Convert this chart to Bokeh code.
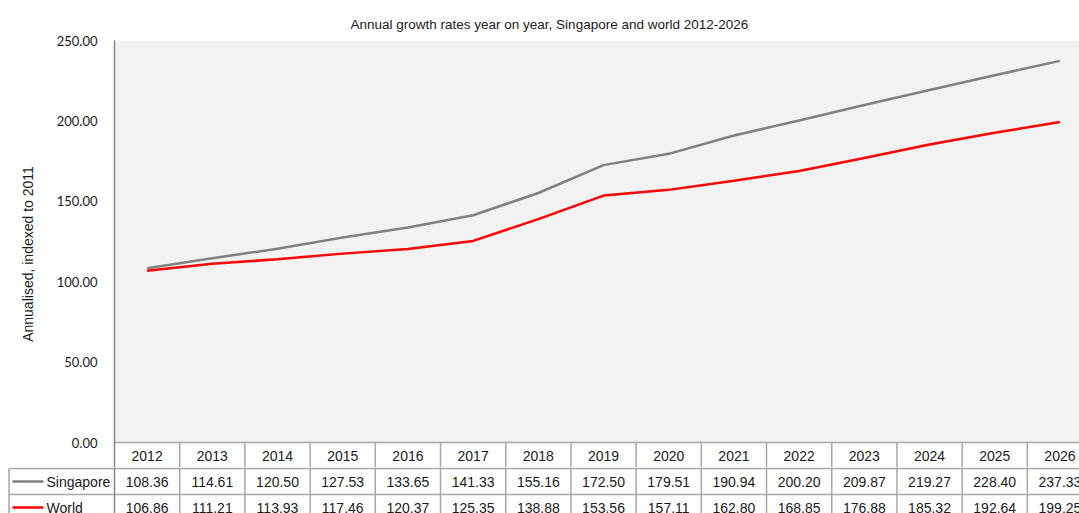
from bokeh.plotting import figure
from bokeh.models import Range1d, FixedTicker, NumeralTickFormatter, ColumnDataSource
from bokeh.core.properties import value
from bokeh.embed import file_html
from bokeh.resources import INLINE

years = ["2012", "2013", "2014", "2015", "2016", "2017", "2018", "2019",
         "2020", "2021", "2022", "2023", "2024", "2025", "2026"]
singapore = [108.36, 114.61, 120.50, 127.53, 133.65, 141.33, 155.16, 172.50,
             179.51, 190.94, 200.20, 209.87, 219.27, 228.40, 237.33]
world = [106.86, 111.21, 113.93, 117.46, 120.37, 125.35, 138.88, 153.56,
         157.11, 162.80, 168.85, 176.88, 185.32, 192.64, 199.25]
y_ticks = [0, 50, 100, 150, 200, 250]

GRAY = "#808080"
RED = "#ff0000"
GRID = "#a6a6a6"
AXIS = "#868686"
FONT = "Liberation Sans"
TXT = "#1a1a1a"

n = len(years)
xs = list(range(n))
X_END = 14.3
W = 1079
H = 513
LEFT = 114
TOP = 40
ZERO_PX = 442          # pixel row of value 0
ROW = 26               # table row height in px
P1_BOTTOM = ZERO_PX + ROW - 1
Y_MAX = 250
val_per_px = Y_MAX / (ZERO_PX - TOP)
Y_START = -(P1_BOTTOM - ZERO_PX) * val_per_px

# ---------- chart (frame includes the year row of the table) ----------
p1 = figure(width=W, height=P1_BOTTOM, output_backend="svg", toolbar_location=None,
            x_range=Range1d(-0.5, X_END), y_range=Range1d(Y_START, Y_MAX),
            x_axis_location=None,
            min_border_left=LEFT, min_border_right=0,
            min_border_bottom=0, min_border_top=TOP,
            title="Annual growth rates year on year, Singapore and world 2012-2026")
p1.title.align = "left"
p1.title.offset = 236
p1.title.text_font = FONT
p1.title.text_font_size = "13.5px"
p1.title.text_font_style = "normal"
p1.title.text_color = TXT
p1.title.standoff = 18
p1.background_fill_color = "#f2f2f2"
p1.border_fill_color = "white"
p1.outline_line_color = None
p1.grid.visible = False

ya = p1.yaxis[0]
ya.ticker = FixedTicker(ticks=y_ticks)
ya.formatter = NumeralTickFormatter(format="0.00")
ya.major_tick_line_color = None
ya.minor_tick_line_color = None
ya.axis_line_color = AXIS
ya.axis_line_width = 1.5
ya.major_label_text_font = "Lato"
ya.major_label_text_font_size = "13px"
ya.major_label_text_color = TXT
ya.major_label_standoff = 11
ya.axis_label = "Annualised, indexed to 2011"
ya.axis_label_text_font = FONT
ya.axis_label_text_font_size = "14px"
ya.axis_label_text_font_style = "normal"
ya.axis_label_text_color = TXT
ya.axis_label_standoff = 18

p1.line(xs, singapore, line_color=GRAY, line_width=2.5)
p1.line(xs, world, line_color=RED, line_width=2.5)

# year row (white band below the zero line)
p1.quad(left=[-0.5], right=[X_END], bottom=[Y_START], top=[0],
        fill_color="white", line_color=None)
p1.segment(x0=[-0.5], y0=[0], x1=[X_END], y1=[0], line_color=GRID, line_width=1.5)
vx = [k - 0.5 for k in range(1, n + 1)]
p1.segment(x0=vx, y0=[0] * len(vx), x1=vx, y1=[Y_START] * len(vx),
           line_color=GRID, line_width=1.5)
year_y = -(ROW / 2) * val_per_px
p1.text(x=xs, y=[year_y] * n, text=years, text_font=value(FONT),
        text_font_size="14px", text_align="center", text_baseline="middle",
        text_color=TXT)

# ---------- value rows of the table ----------
px_per_unit = (W - LEFT) / (X_END + 0.5)
X_LEFT = -0.5 - LEFT / px_per_unit
T_H = H - P1_BOTTOM
T0 = P1_BOTTOM - ZERO_PX        # table y (px from zero line) at top of p2
p2 = figure(width=W, height=T_H, output_backend="svg", toolbar_location=None,
            x_range=Range1d(X_LEFT, X_END), y_range=Range1d(T0 + T_H, T0),
            x_axis_location=None, y_axis_location=None,
            min_border_left=0, min_border_right=0, min_border_top=0, min_border_bottom=0)
p2.background_fill_color = "white"
p2.border_fill_color = "white"
p2.outline_line_color = None
p2.grid.visible = False

y_bot = T0 + T_H
leg_left = X_LEFT + 8.5 / px_per_unit
p2.segment(x0=[leg_left, leg_left], y0=[ROW, 2 * ROW],
           x1=[X_END, X_END], y1=[ROW, 2 * ROW],
           line_color=GRID, line_width=1.5)
p2.segment(x0=vx, y0=[T0] * len(vx), x1=vx, y1=[y_bot] * len(vx),
           line_color=GRID, line_width=1.5)
p2.segment(x0=[-0.5], y0=[T0], x1=[-0.5], y1=[y_bot], line_color=AXIS, line_width=1.5)
p2.segment(x0=[leg_left], y0=[ROW], x1=[leg_left], y1=[y_bot], line_color=GRID, line_width=1.5)

src = ColumnDataSource(dict(
    x=xs,
    sg=[f"{v:.2f}" for v in singapore],
    wd=[f"{v:.2f}" for v in world],
    sy=[ROW * 1.5] * n, wy=[ROW * 2.5] * n))
for col, ycol in (("sg", "sy"), ("wd", "wy")):
    p2.text(x="x", y=ycol, text=col, source=src, text_font=value(FONT),
            text_font_size="14px", text_align="center", text_baseline="middle",
            text_color=TXT)

# legend keys
ls_x0 = X_LEFT + 12 / px_per_unit
ls_x1 = X_LEFT + 43 / px_per_unit
p2.segment(x0=[ls_x0], y0=[ROW * 1.5], x1=[ls_x1], y1=[ROW * 1.5], line_color=GRAY, line_width=2.5)
p2.segment(x0=[ls_x0], y0=[ROW * 2.5], x1=[ls_x1], y1=[ROW * 2.5], line_color=RED, line_width=2.5)
tx = X_LEFT + 46 / px_per_unit
p2.text(x=[tx, tx], y=[ROW * 1.5, ROW * 2.5], text=["Singapore", "World"], text_font=value(FONT),
        text_font_size="14px", text_align="left", text_baseline="middle",
        text_color=TXT)

open("out.html", "w").write(file_html([p1, p2], INLINE))
